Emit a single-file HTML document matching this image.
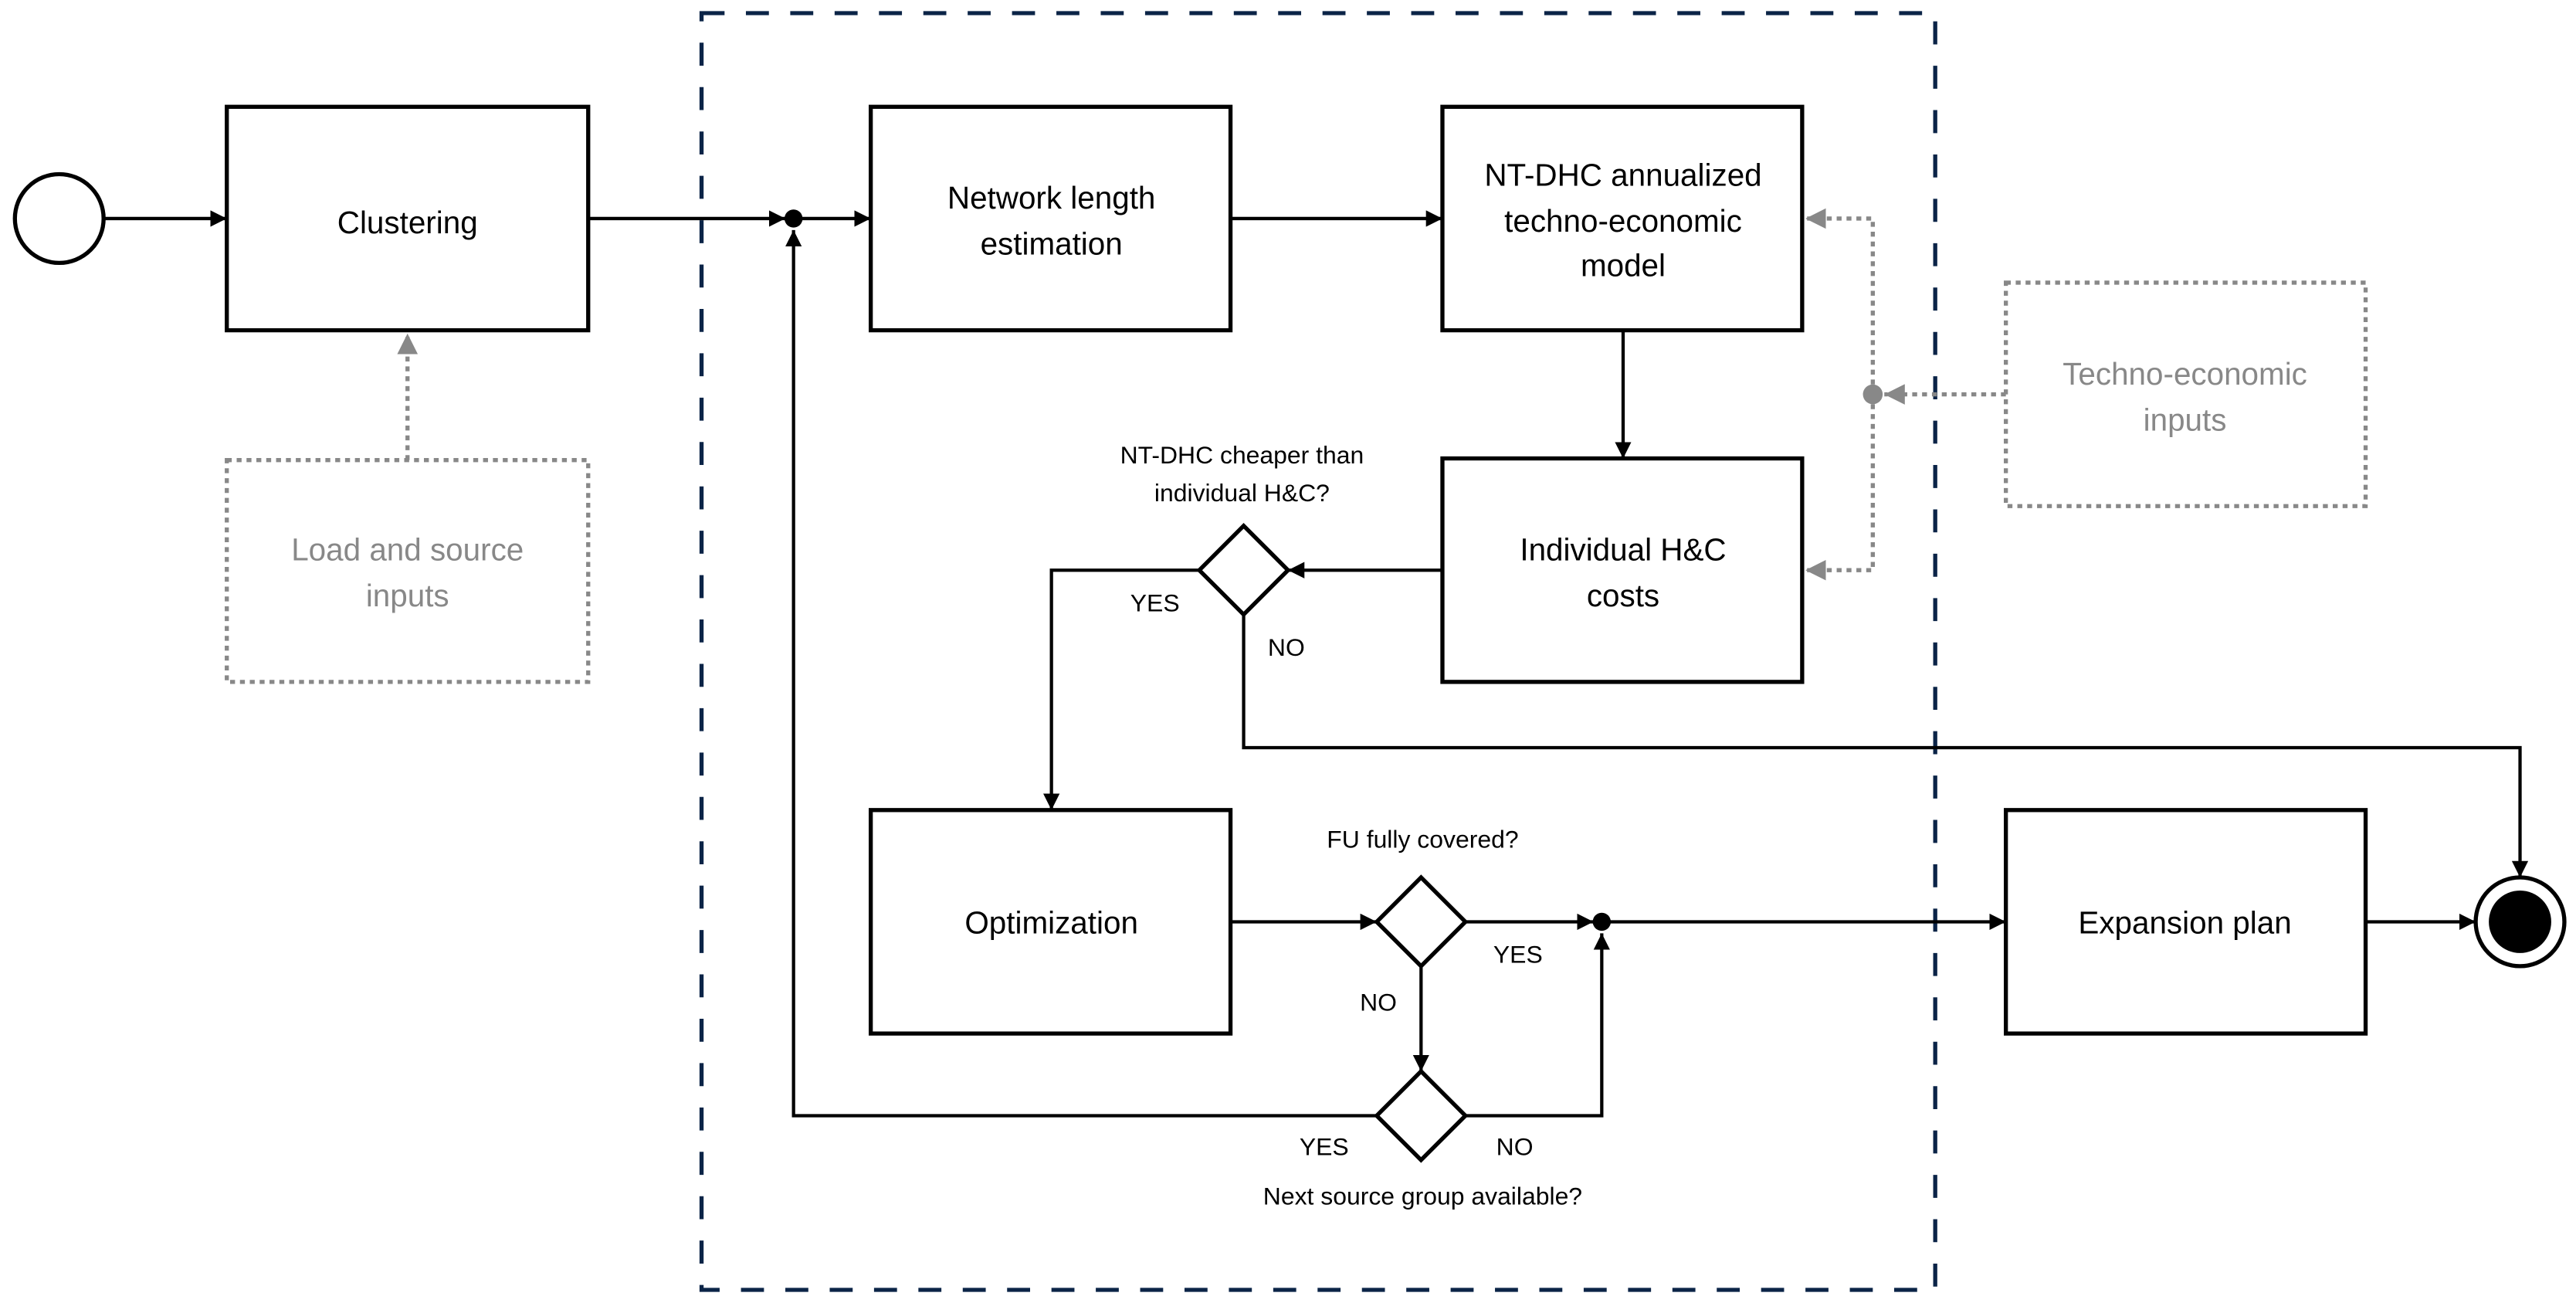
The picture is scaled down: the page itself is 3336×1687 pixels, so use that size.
<!DOCTYPE html>
<html><head><meta charset="utf-8"><style>
html,body{margin:0;padding:0;background:#fff;}
svg{display:block;}
text{font-family:"Liberation Sans",sans-serif;}
</style></head><body>
<svg width="3336" height="1687" viewBox="0 0 1568 793" xmlns="http://www.w3.org/2000/svg">
<defs>
<marker id="a" viewBox="0 0 10 10" refX="10" refY="5" markerWidth="5" markerHeight="5" orient="auto"><path d="M0,0 L10,5 L0,10 z" fill="#000"/></marker>
<marker id="g" viewBox="0 0 10 10" refX="10" refY="5" markerWidth="5" markerHeight="5" orient="auto"><path d="M0,0 L10,5 L0,10 z" fill="#888"/></marker>
</defs>
<rect x="0" y="0" width="1568" height="793" fill="#fff"/>
<!-- dashed region -->
<rect x="427" y="8" width="751" height="777" fill="none" stroke="#0b2447" stroke-width="2.5" stroke-dasharray="14,13"/>
<!-- start -->
<circle cx="36" cy="133" r="27" fill="#fff" stroke="#000" stroke-width="2.5"/>
<g fill="none" stroke="#000" stroke-width="2.5">
<rect x="138" y="65" width="220" height="136"/>
<rect x="530" y="65" width="219" height="136"/>
<rect x="878" y="65" width="219" height="136"/>
<rect x="878" y="279" width="219" height="136"/>
<rect x="530" y="493" width="219" height="136"/>
<rect x="1221" y="493" width="219" height="136"/>
<path d="M757,320 L784,347 L757,374 L730,347 Z"/>
<path d="M865,534 L892,561 L865,588 L838,561 Z"/>
<path d="M865,652 L892,679 L865,706 L838,679 Z"/>
</g>
<g fill="none" stroke="#888" stroke-width="2.5" stroke-dasharray="3,3">
<rect x="138" y="280" width="220" height="135"/>
<rect x="1221" y="172" width="219" height="136"/>
</g>
<!-- connectors -->
<g fill="none" stroke="#000" stroke-width="2">
<line x1="63" y1="133" x2="138" y2="133" marker-end="url(#a)"/>
<line x1="358" y1="133" x2="478" y2="133" marker-end="url(#a)"/>
<line x1="488" y1="133" x2="530" y2="133" marker-end="url(#a)"/>
<line x1="749" y1="133" x2="878" y2="133" marker-end="url(#a)"/>
<line x1="988" y1="201" x2="988" y2="279" marker-end="url(#a)"/>
<line x1="878" y1="347" x2="784" y2="347" marker-end="url(#a)"/>
<polyline points="730,347 640,347 640,493" marker-end="url(#a)"/>
<polyline points="757,374 757,455 1534,455 1534,534" marker-end="url(#a)"/>
<line x1="749" y1="561" x2="838" y2="561" marker-end="url(#a)"/>
<line x1="892" y1="561" x2="970" y2="561" marker-end="url(#a)"/>
<line x1="975" y1="561" x2="1221" y2="561" marker-end="url(#a)"/>
<line x1="865" y1="588" x2="865" y2="652" marker-end="url(#a)"/>
<polyline points="838,679 483,679 483,140" marker-end="url(#a)"/>
<polyline points="892,679 975,679 975,568" marker-end="url(#a)"/>
<line x1="1440" y1="561" x2="1507" y2="561" marker-end="url(#a)"/>
</g>
<circle cx="483" cy="133" r="5.5" fill="#000"/>
<circle cx="975" cy="561" r="5.5" fill="#000"/>
<!-- gray dotted -->
<g fill="none" stroke="#888" stroke-width="2.5" stroke-dasharray="3,3">
<line x1="248" y1="280" x2="248" y2="203" marker-end="url(#g)"/>
<line x1="1221" y1="240" x2="1147" y2="240" marker-end="url(#g)"/>
<polyline points="1140,240 1140,133 1099,133" marker-end="url(#g)"/>
<polyline points="1140,240 1140,347 1099,347" marker-end="url(#g)"/>
</g>
<circle cx="1140" cy="240" r="6" fill="#888"/>
<!-- end -->
<circle cx="1534" cy="561" r="27" fill="#fff" stroke="#000" stroke-width="2.5"/>
<circle cx="1534" cy="561" r="19" fill="#000"/>
<!-- text -->
<g font-size="19" text-anchor="middle" fill="#000">
<text x="248" y="142">Clustering</text>
<text x="640" y="127">Network length</text>
<text x="640" y="155">estimation</text>
<text x="988" y="113">NT-DHC annualized</text>
<text x="988" y="141">techno-economic</text>
<text x="988" y="168">model</text>
<text x="988" y="341">Individual H&amp;C</text>
<text x="988" y="369">costs</text>
<text x="640" y="568">Optimization</text>
<text x="1330" y="568">Expansion plan</text>
</g>
<g font-size="19" text-anchor="middle" fill="#888">
<text x="248" y="341">Load and source</text>
<text x="248" y="369">inputs</text>
<text x="1330" y="234">Techno-economic</text>
<text x="1330" y="262">inputs</text>
</g>
<g font-size="15" text-anchor="middle" fill="#000">
<text x="756" y="282">NT-DHC cheaper than</text>
<text x="756" y="305">individual H&amp;C?</text>
<text x="703" y="372">YES</text>
<text x="783" y="399">NO</text>
<text x="866" y="516">FU fully covered?</text>
<text x="924" y="586">YES</text>
<text x="839" y="615">NO</text>
<text x="806" y="703">YES</text>
<text x="922" y="703">NO</text>
<text x="866" y="733">Next source group available?</text>
</g>
</svg>
</body></html>
